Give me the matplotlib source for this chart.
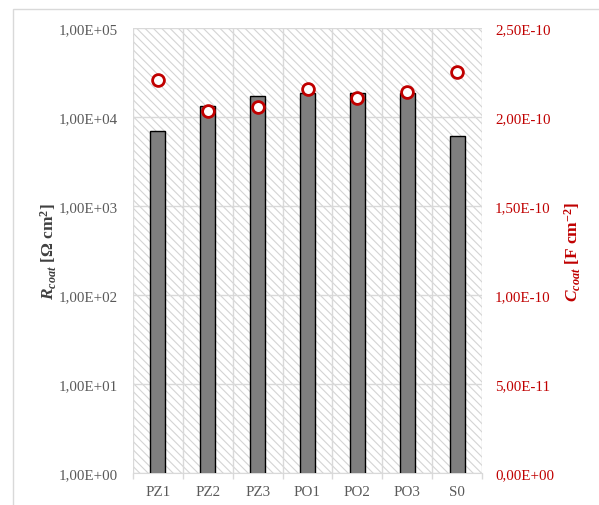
import matplotlib
matplotlib.use("Agg")
import matplotlib.pyplot as plt
from matplotlib.patches import Rectangle
from matplotlib.ticker import FixedLocator, FuncFormatter
import numpy as np

categories = ["PZ1", "PZ2", "PZ3", "PO1", "PO2", "PO3", "S0"]
r_coat = [6950, 13400, 17100, 18500, 18600, 18800, 6070]
c_coat = [2.208e-10, 2.035e-10, 2.054e-10, 2.156e-10, 2.105e-10, 2.139e-10, 2.251e-10]
left_ticks = [1e0, 1e1, 1e2, 1e3, 1e4, 1e5]
right_ticks = [0, 5e-11, 1e-10, 1.5e-10, 2e-10, 2.5e-10]

plt.rcParams['font.family'] = ['Liberation Serif', 'DejaVu Serif']
plt.rcParams['hatch.linewidth'] = 0.8
plt.rcParams['mathtext.fontset'] = 'custom'
plt.rcParams['mathtext.rm'] = 'Liberation Serif'
plt.rcParams['mathtext.it'] = 'Liberation Serif:italic'
plt.rcParams['mathtext.bf'] = 'Liberation Serif:bold'
plt.rcParams['mathtext.bfit'] = 'Liberation Serif:bold:italic'

fig = plt.figure(figsize=(5.99, 5.06), dpi=100)
fig.patches.append(Rectangle((13/599, -0.1), 1.2, (496/506) + 0.1, transform=fig.transFigure,
                             fill=False, edgecolor='#d9d9d9', linewidth=1.0, figure=fig))
ax = fig.add_axes([133/599, 1 - 474/506, (482-133)/599, (474-29)/506])
ax.patch.set_visible(False)
x = np.arange(len(categories))
ax.set_xlim(-0.5, len(categories) - 0.5)
ax.set_yscale('log')
ax.set_ylim(1, 1e5)

bg = Rectangle((0, 0), 1, 1, transform=ax.transAxes, facecolor='white', edgecolor='#d4d4d4',
               hatch='\\\\\\\\', linewidth=0, zorder=0)
ax.add_patch(bg)

for b in np.arange(-0.5, len(categories), 1.0):
    ax.axvline(b, color='#d9d9d9', linewidth=1.0, zorder=1)
for t in left_ticks:
    ax.axhline(t, color='#d9d9d9', linewidth=1.0, zorder=1)

ax.bar(x, r_coat, width=0.3, color='#7f7f7f', edgecolor='black', linewidth=1.0, zorder=3)

for s in ['top', 'left', 'right']:
    ax.spines[s].set_visible(False)
ax.spines['bottom'].set_color('#d9d9d9')
ax.spines['bottom'].set_zorder(2)

fmt = FuncFormatter(lambda v, p: ("%.2E" % v).replace('.', ','))
ax.yaxis.set_major_locator(FixedLocator(left_ticks))
ax.yaxis.set_minor_locator(FixedLocator([]))
ax.yaxis.set_major_formatter(fmt)
ax.tick_params(axis='y', length=0, pad=10.8, labelsize=10.8, labelcolor='#595959')
ax.set_xticks(x)
ax.set_xticklabels(categories)
ax.set_xticks(np.arange(-0.5, len(categories), 1.0), minor=True)
ax.tick_params(axis='x', which='major', length=0, pad=9, labelsize=10.8, labelcolor='#595959')
ax.tick_params(axis='x', which='minor', length=4, color='#d9d9d9', width=1.0)

ax.set_ylabel(r'$\mathbfit{R}_{\mathbfit{coat}}$ [Ω cm$^{\mathbf{2}}$]', fontsize=12.5,
              fontweight='bold', color='#404040')
ax.yaxis.set_label_coords(-0.211, 0.5)

ax2 = ax.twinx()
ax2.set_ylim(0, 2.5e-10)
ax2.plot(x, c_coat, linestyle='none', marker='o', markersize=8.5, markerfacecolor='white',
         markeredgecolor='#c00000', markeredgewidth=2.0, zorder=5)
for s in ['top', 'left', 'right', 'bottom']:
    ax2.spines[s].set_visible(False)
ax2.yaxis.set_major_locator(FixedLocator(right_ticks))
ax2.yaxis.set_major_formatter(fmt)
ax2.tick_params(axis='y', length=0, pad=9.4, labelsize=10.8, labelcolor='#c00000')
ax2.set_ylabel(r'$\mathbfit{C}_{\mathbfit{coat}}$ [F cm$^{\mathbf{-2}}$]', fontsize=12.5,
               fontweight='bold', color='#c00000')
ax2.yaxis.set_label_coords(1.23, 0.5)

fig.savefig('out.png', dpi=100)
